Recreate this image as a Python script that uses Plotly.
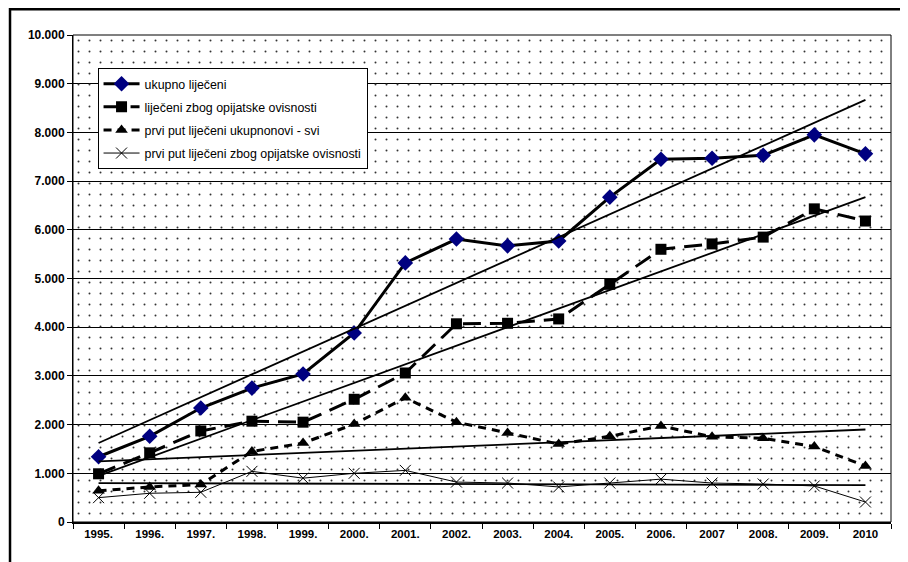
import numpy as np
import plotly.graph_objects as go

years = ["1995.", "1996.", "1997.", "1998.", "1999.", "2000.", "2001.", "2002.",
         "2003.", "2004.", "2005.", "2006.", "2007", "2008.", "2009.", "2010"]

ukupno = [1340, 1760, 2340, 2750, 3040, 3880, 5320, 5810, 5670, 5770, 6670, 7450, 7470, 7530, 7950, 7560]
opijati = [990, 1420, 1870, 2070, 2050, 2520, 3060, 4070, 4080, 4170, 4880, 5600, 5710, 5850, 6430, 6180]
prvi_svi = [640, 720, 770, 1450, 1620, 2010, 2550, 2050, 1830, 1600, 1760, 1970, 1750, 1720, 1550, 1150]
prvi_opijati = [500, 590, 610, 1040, 900, 1000, 1060, 820, 800, 720, 800, 880, 800, 780, 740, 410]

names = ["ukupno liječeni", "liječeni zbog opijatske ovisnosti",
         "prvi put liječeni ukupnonovi - svi", "prvi put liječeni zbog opijatske ovisnosti"]

Y_MAX = 10000
FONT = "Arial, Liberation Sans, sans-serif"

fig = go.Figure()

# dotted plot-area background
fig.add_trace(go.Bar(
    x=years, y=[Y_MAX] * len(years), width=1,
    marker=dict(color="#333", line=dict(width=0),
                pattern=dict(shape=".", size=11, solidity=0.026,
                             fillmode="replace", bgcolor="rgba(0,0,0,0)")),
    showlegend=False, hoverinfo="skip"))

styles = [
    dict(line=dict(color="black", width=3), marker=dict(symbol="diamond", size=12, color="#000080")),
    dict(line=dict(color="black", width=3, dash="18px,9px"), marker=dict(symbol="square", size=11, color="black")),
    dict(line=dict(color="black", width=3, dash="8px,6px"), marker=dict(symbol="triangle-up", size=11, color="black")),
    dict(line=dict(color="black", width=1), marker=dict(symbol="x-thin", size=11, color="black",
                                                        line=dict(color="black", width=1))),
]

series = [ukupno, opijati, prvi_svi, prvi_opijati]
for i, (vals, nm, st) in enumerate(zip(series, names, styles)):
    fig.add_trace(go.Scatter(x=years, y=vals, name=nm, mode="lines+markers",
                             legendgroup=f"g{i}", hoverinfo="skip", **st))

# linear trendlines
idx = np.arange(len(years))
for vals in series:
    k, b = np.polyfit(idx, np.array(vals, dtype=float), 1)
    fig.add_trace(go.Scatter(x=years, y=k * idx + b, mode="lines",
                             line=dict(color="black", width=1.8),
                             showlegend=False, hoverinfo="skip"))

# outer frame
fig.add_shape(type="rect", xref="paper", yref="paper",
              x0=-0.077, x1=1.3, y0=-0.3, y1=1.053,
              line=dict(color="black", width=2.5), fillcolor="rgba(0,0,0,0)")

fig.update_layout(
    width=900, height=554,
    margin=dict(l=65, r=17, t=27, b=40),
    paper_bgcolor="white", plot_bgcolor="white",
    separators=",.",
    font=dict(family=FONT, color="black"),
    showlegend=True,
    legend=dict(x=0.03, y=0.932, xanchor="left", yanchor="top",
                bgcolor="white", bordercolor="black", borderwidth=1,
                font=dict(size=12.4, family=FONT), itemwidth=36,
                tracegroupgap=4),
    xaxis=dict(type="category", range=[-0.5, len(years) - 0.5],
               showgrid=False, tickson="boundaries", ticks="outside", ticklen=5,
               tickcolor="black", showline=True, linecolor="black", linewidth=2,
               mirror=False, tickfont=dict(size=11.5, family=FONT, weight="bold")),
    yaxis=dict(range=[0, Y_MAX], dtick=1000, tickformat=",d",
               showgrid=True, gridcolor="black", gridwidth=1,
               ticks="outside", ticklen=5, tickcolor="black",
               showline=True, linecolor="black", linewidth=1, zeroline=False,
               tickfont=dict(size=12, family=FONT, weight="bold")),
    bargap=0,
)

# plot-area border (right/top)
fig.add_shape(type="rect", xref="paper", yref="paper", x0=0, x1=1, y0=0, y1=1,
              line=dict(color="black", width=1), fillcolor="rgba(0,0,0,0)")

fig.write_html("out.html")
